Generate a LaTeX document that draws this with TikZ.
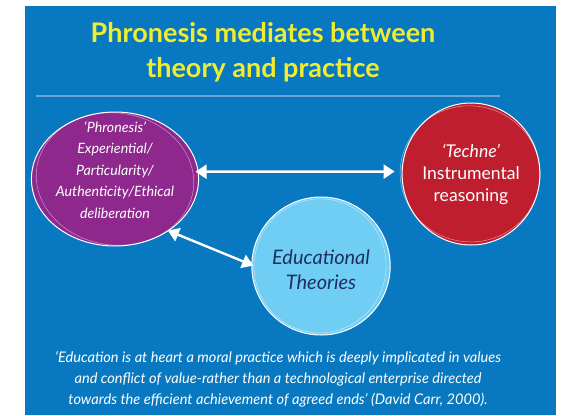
\documentclass[tikz,border=0pt]{standalone}
\usepackage{fontspec}
\setmainfont{Lato}
\definecolor{SlideBlue}{RGB}{8,120,192}
\definecolor{RuleBlue}{RGB}{110,165,215}
\definecolor{TitleYellow}{RGB}{240,236,50}
\definecolor{PhronPurple}{RGB}{142,40,140}
\definecolor{TechRed}{RGB}{190,30,46}
\definecolor{TheoryBlue}{RGB}{112,206,245}
\definecolor{InkNavy}{RGB}{28,48,98}
\usetikzlibrary{arrows.meta,shapes.geometric}
\tikzset{
	bubble/.style={
		ellipse,draw=white,line width=1pt,inner sep=0pt,align=center,text=white},
	ring/.style={draw=white,opacity=0.45,line width=0.6pt},
	twoway/.style={
		draw=white,line width=2.4pt,
		{Triangle[length=11pt,width=14pt]}-{Triangle[length=11pt,width=14pt]}}
}
\def\quoted#1{\textit{`#1'}}
\def\lift#1#2{\raisebox{#1}[0pt][0pt]{\begin{tabular}{@{}c@{}}#2\end{tabular}}}

\begin{document}
\begin{tikzpicture}[x=1pt,y=-1pt]
			\useasboundingbox (0,0) rectangle (564,415);
			\fill[SlideBlue] (25,6) rectangle (556,415);
			\node[text=TitleYellow,font=\bfseries\fontsize{27}{35}\selectfont,align=center] (title) at (263,52) {Phronesis mediates between\\theory and practice};
			\draw[RuleBlue,line width=1.6pt] (36,96) -- (500,96);
			% the three ideas
			\node[bubble,fill=PhronPurple,minimum width=144pt,minimum height=134pt,
				font=\itshape\fontsize{14.2}{21.5}\selectfont] (phronesis) at (115,179)
				{\lift{4.5pt}{\quoted{Phronesis}\\Experiential/\\Particularity/\\Authenticity/Ethical\\deliberation}};
			\node[bubble,fill=TechRed,minimum width=130pt,minimum height=142pt,
				font=\fontsize{17.6}{22}\selectfont] (techne) at (471,174)
				{\quoted{Techne}\\Instrumental\\reasoning};
			\node[bubble,fill=TheoryBlue,text=InkNavy,minimum width=122pt,minimum height=138pt,
				font=\itshape\fontsize{20}{25}\selectfont] (theories) at (321,266)
				{\lift{-11pt}{Educational\\Theories}};
			\draw[ring,rotate around={-8:(phronesis.center)}] (phronesis.center) ellipse (79pt and 66pt);
			\draw[ring,rotate around={-10:(techne.center)}] ([xshift=-1pt]techne.center) ellipse (70pt and 68pt);
			\draw[ring,rotate around={-10:(theories.center)}] ([xshift=-1pt]theories.center) ellipse (66pt and 67pt);
			% links
			\path[twoway,shorten <=-3pt,shorten >=7pt] (phronesis.5) -- (techne.178);
			\path[twoway,shorten <=-1pt,shorten >=-2pt] (phronesis.-44) -- (theories.179);
			\node[text=white,font=\itshape\fontsize{14.6}{21}\selectfont,align=center] (quote) at (278,379)
				{`Education is at heart a moral practice which is deeply implicated in values\\
				and conflict of value-rather than a technological enterprise directed\\
				towards the efficient achievement of agreed ends' (David Carr, 2000).};
\end{tikzpicture}
\end{document}
